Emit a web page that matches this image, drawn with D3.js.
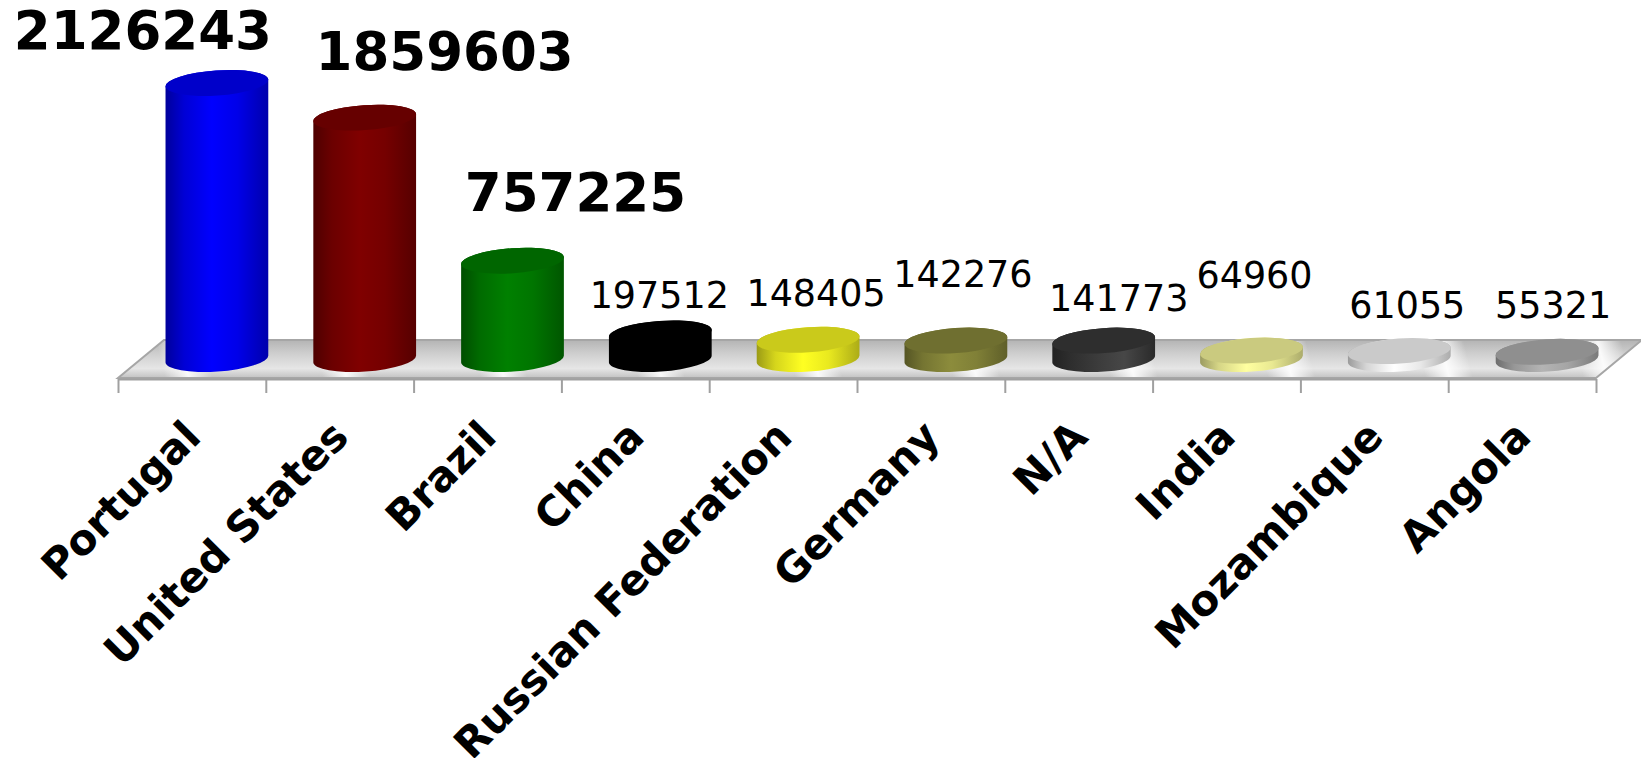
<!DOCTYPE html>
<html>
<head>
<meta charset="utf-8">
<script src="https://cdn.jsdelivr.net/npm/d3@7"></script>
<style>
body { margin: 0; background: #fff; }
svg { display: block; }
text { font-family: "DejaVu Sans", Verdana, sans-serif; fill: #000; }
</style>
</head>
<body>
<div id="chart"></div>
<script>
const categories = ['Portugal', 'United States', 'Brazil', 'China', 'Russian Federation', 'Germany', 'N/A', 'India', 'Mozambique', 'Angola']
const values = [2126243, 1859603, 757225, 197512, 148405, 142276, 141773, 64960, 61055, 55321]
const barColors = ['#0000ff', '#800000', '#008000', '#000000', '#ffff22', '#8c8c3c', '#3a3a3a', '#ffffa0', '#ffffff', '#b4b4b4']

// labels were moved by hand in the original, keep those nudges
const labelDx = [-74, 80, 63, -1, 8, 7, 15, 3, 8, 6]
const labelGap = [21.5, 35.6, 37.5, 12.6, 21.5, 41, 16.6, 50.1, 20.3, 21]

const width = 1641, height = 758
const floorY = 378, depthX = 46, depthY = -38
const baseY = floorY + depthY / 2
const rx = 51.5, ry = 12.5, tilt = -4

const svg = d3.select('#chart').append('svg')
.attr('width', width)
.attr('height', height)

const defs = svg.append('defs')

let xScale = d3.scaleBand()
.domain(categories)
.range([118, 1596])

let yScale = d3.scaleLinear()
.domain([0, d3.max(values)])
.range([baseY, baseY - 276])

let floor = svg.append('g')
let axis = svg.append('g')
let bars = svg.append('g')
let valueLabels = svg.append('g')
let catLabels = svg.append('g')

// floor
let fg = defs.append('linearGradient').attr('id', 'floorBase').attr('x1', 0).attr('y1', 0).attr('x2', 0).attr('y2', 1)
fg.append('stop').attr('offset', 0).attr('stop-color', '#b4b4b4')
fg.append('stop').attr('offset', 0.35).attr('stop-color', '#cecece')
fg.append('stop').attr('offset', 0.75).attr('stop-color', '#e6e6e6')
fg.append('stop').attr('offset', 1).attr('stop-color', '#c2c2c2')

let sg = defs.append('linearGradient').attr('id', 'floorStreak')
.attr('gradientUnits', 'userSpaceOnUse')
.attr('x1', 118).attr('y1', 378).attr('x2', 118 + xScale.bandwidth()).attr('y2', 340)
.attr('spreadMethod', 'repeat')
sg.append('stop').attr('offset', 0).attr('stop-color', '#fff').attr('stop-opacity', 0)
sg.append('stop').attr('offset', 0.3).attr('stop-color', '#fff').attr('stop-opacity', 0)
sg.append('stop').attr('offset', 0.45).attr('stop-color', '#fff').attr('stop-opacity', 0.9)
sg.append('stop').attr('offset', 0.6).attr('stop-color', '#fff').attr('stop-opacity', 0)
sg.append('stop').attr('offset', 1).attr('stop-color', '#fff').attr('stop-opacity', 0)

const [x0, x1] = xScale.range()
const floorPts = [[x0, floorY], [x1, floorY], [x1 + depthX, floorY + depthY], [x0 + depthX, floorY + depthY]]

floor.append('polygon')
.attr('points', floorPts.join(' '))
.attr('fill', 'url(#floorBase)')

floor.append('polygon')
.attr('points', floorPts.join(' '))
.attr('fill', 'url(#floorStreak)')
.attr('stroke', '#a6a6a6')
.attr('stroke-width', 2)

// axis ticks sit on the band edges
let tickScale = d3.scaleLinear()
.domain([0, categories.length])
.range(xScale.range())

axis.attr('transform', 'translate(0,' + (floorY + 1) + ')')
.call(
	d3.axisBottom(tickScale)
	.tickValues(d3.range(categories.length + 1))
	.tickSize(14)
	.tickSizeOuter(0)
	.tickFormat('')
)
axis.selectAll('path, line').attr('stroke', '#a0a0a0').attr('stroke-width', 2)

// cylinders
const t = tilt * Math.PI / 180
const ex = rx * Math.cos(t), ey = rx * Math.sin(t)

let cylPath = (cx, top, bot) =>
	`M${cx - ex},${top - ey} L${cx - ex},${bot - ey} ` +
	`A${rx},${ry} ${tilt} 0 0 ${cx + ex},${bot + ey} ` +
	`L${cx + ex},${top + ey} A${rx},${ry} ${tilt} 0 0 ${cx - ex},${top - ey} Z`

let barX = d => xScale(d) + xScale.bandwidth() / 2 + depthX / 2 + 2

categories.forEach((c, i) => {

	let base = d3.rgb(barColors[i])
	let g = defs.append('linearGradient').attr('id', 'side' + i)
	;[[0, 1.4], [0.18, 0.5], [0.45, 0], [0.7, 0.25], [1, 1.1]].forEach(s => {
		g.append('stop').attr('offset', s[0]).attr('stop-color', base.darker(s[1]))
	})
	if (c === 'N/A') {
		g.selectAll('stop').attr('stop-color', (d, j) => ['#222', '#2e2e2e', '#3c3c3c', '#474747', '#2a2a2a'][j])
	}

	let cx = barX(c)
	let top = yScale(values[i])

	bars.append('path')
	.attr('d', cylPath(cx, top, baseY))
	.attr('fill', 'url(#side' + i + ')')

	bars.append('ellipse')
	.attr('cx', cx)
	.attr('cy', top)
	.attr('rx', rx)
	.attr('ry', ry)
	.attr('transform', `rotate(${tilt},${cx},${top})`)
	.attr('fill', base.darker(0.65))
})

// value labels
valueLabels.selectAll('text')
.data(values)
.join('text')
.attr('x', (d, i) => barX(categories[i]) + labelDx[i])
.attr('y', (d, i) => yScale(d) - ry - labelGap[i])
.attr('text-anchor', 'middle')
.attr('font-weight', (d, i) => i < 3 ? 'bold' : 'normal')
.attr('font-size', (d, i) => i < 3 ? 53 : 36.5)
.text(d => d)

// category labels
catLabels.selectAll('text')
.data(categories)
.join('text')
.attr('transform', d => `translate(${xScale(d) + xScale.bandwidth() / 2 + 11},439) rotate(-45)`)
.attr('text-anchor', 'end')
.attr('font-weight', 'bold')
.attr('font-size', 42)
.text(d => d)
</script>
</body>
</html>
